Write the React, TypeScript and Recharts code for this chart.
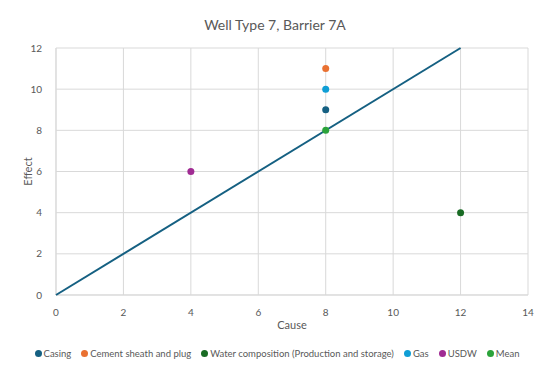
import {
  ScatterChart,
  Scatter,
  XAxis,
  YAxis,
  CartesianGrid,
  Legend,
} from "recharts";

const casing = [{ cause: 8, effect: 9 }];
const cement = [{ cause: 8, effect: 11 }];
const water = [{ cause: 12, effect: 4 }];
const gas = [{ cause: 8, effect: 10 }];
const usdw = [{ cause: 4, effect: 6 }];
const mean = [{ cause: 8, effect: 8 }];
const diagonal = [
  { cause: 0, effect: 0 },
  { cause: 12, effect: 12 },
];

const xTicks = [0, 2, 4, 6, 8, 10, 12, 14];
const yTicks = [0, 2, 4, 6, 8, 10, 12];

const series = [
  { name: "Casing", data: casing, color: "#156082" },
  { name: "Cement sheath and plug", data: cement, color: "#E97132" },
  { name: "Water composition (Production and storage)", data: water, color: "#196B24" },
  { name: "Gas", data: gas, color: "#0F9ED5" },
  { name: "USDW", data: usdw, color: "#A02B93" },
  { name: "Mean", data: mean, color: "#2BA33A" },
];

const FONT = "Lato, 'Noto Sans', sans-serif";
const GRAY = "#595959";

function LegendContent() {
  return (
    <div
      style={{
        display: "flex",
        justifyContent: "center",
        gap: 10,
        fontFamily: FONT,
        fontSize: 9.5,
        color: GRAY,
        paddingLeft: 4,
      }}
    >
      {series.map((s) => (
        <span key={s.name} style={{ display: "flex", alignItems: "center" }}>
          <span
            style={{
              width: 7,
              height: 7,
              borderRadius: "50%",
              background: s.color,
              marginRight: 2,
              display: "inline-block",
            }}
          />
          {s.name}
        </span>
      ))}
    </div>
  );
}

export default function App() {
  return (
    <div style={{ position: "relative", width: 550, height: 377, margin: -8, background: "#fff" }}>
      <div
        style={{
          position: "absolute",
          left: 4,
          top: 5,
          width: 538,
          height: 365,
          border: "1px solid #d9d9d9",
          borderRadius: 2,
        }}
      />
      <div
        style={{
          position: "absolute",
          left: 0,
          top: 16,
          width: 550,
          textAlign: "center",
          fontFamily: FONT,
          fontSize: 14,
          color: GRAY,
        }}
      >
        Well Type 7, Barrier 7A
      </div>
      <div style={{ position: "absolute", left: 0, top: 0 }}>
        <ScatterChart
          width={550}
          height={377}
          margin={{ top: 48, right: 22, bottom: 52, left: 26 }}
        >
          <CartesianGrid stroke="#d9d9d9" strokeWidth={1} />
          <XAxis
            type="number"
            dataKey="cause"
            domain={[0, 14]}
            ticks={xTicks}
            axisLine={{ stroke: "#d9d9d9" }}
            tickLine={false}
            tickMargin={8}
            height={30}
            tick={{ fontSize: 10, fill: GRAY, fontFamily: FONT }}
            label={{
              value: "Cause",
              position: "insideBottom",
              offset: -4,
              style: { fontSize: 11, fill: GRAY, fontFamily: FONT },
            }}
          />
          <YAxis
            type="number"
            dataKey="effect"
            domain={[0, 12]}
            ticks={yTicks}
            axisLine={{ stroke: "#d9d9d9" }}
            tickLine={false}
            tickMargin={8}
            width={30}
            tick={{ fontSize: 10, fill: GRAY, fontFamily: FONT }}
            label={{
              value: "Effect",
              angle: -90,
              position: "insideLeft",
              offset: 2,
              style: { fontSize: 11, fill: GRAY, fontFamily: FONT, textAnchor: "middle" },
            }}
          />
          <Scatter
            name="diagonal"
            data={diagonal}
            line={{ stroke: "#156082", strokeWidth: 2 }}
            shape={() => null}
            legendType="none"
            isAnimationActive={false}
          />
          {series.map((s) => (
            <Scatter
              key={s.name}
              name={s.name}
              data={s.data}
              fill={s.color}
              shape={(p: any) => <circle cx={p.cx} cy={p.cy} r={3.5} fill={s.color} />}
              isAnimationActive={false}
            />
          ))}
          <Legend
            layout="horizontal"
            verticalAlign="middle"
            align="center"
            content={<LegendContent />}
            wrapperStyle={{ top: 348, left: 0, width: 550 }}
          />
        </ScatterChart>
      </div>
    </div>
  );
}
